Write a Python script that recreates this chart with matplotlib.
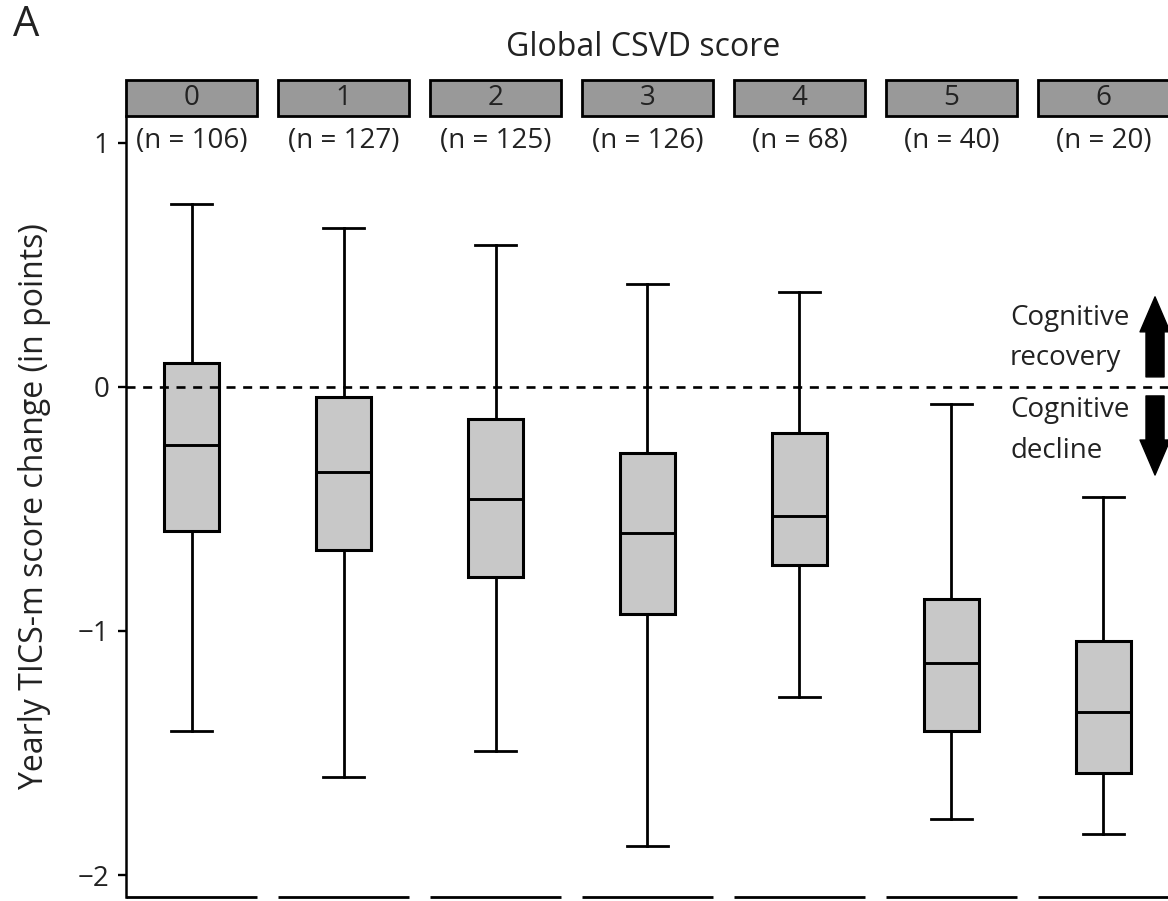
import matplotlib.pyplot as plt
import matplotlib.transforms as mtransforms
from matplotlib.patches import Rectangle

plt.rcParams['font.family'] = ['Open Sans', 'DejaVu Sans']
plt.rcParams['lines.scale_dashes'] = False

# 数据
scores = ['0', '1', '2', '3', '4', '5', '6']
n_patients = [106, 127, 125, 126, 68, 40, 20]
whisker_low = [-1.41, -1.60, -1.49, -1.88, -1.27, -1.77, -1.83]
q1 = [-0.59, -0.67, -0.78, -0.93, -0.73, -1.41, -1.58]
medians = [-0.24, -0.35, -0.46, -0.60, -0.53, -1.13, -1.33]
q3 = [0.10, -0.04, -0.13, -0.27, -0.19, -0.87, -1.04]
whisker_high = [0.75, 0.65, 0.58, 0.42, 0.39, -0.07, -0.45]

stats = []
for i in range(len(scores)):
    stats.append({'med': medians[i], 'q1': q1[i], 'q3': q3[i],
                  'whislo': whisker_low[i], 'whishi': whisker_high[i],
                  'fliers': []})

fig = plt.figure(figsize=(11.68, 9.01), dpi=100)
ax = fig.add_axes([126 / 1168, 4 / 901, 1043 / 1168, 781 / 901])

# 零线（虚线）
ax.axhline(0, color='black', lw=1.9, dashes=(6.5, 5.5), zorder=3)

ax.bxp(stats, positions=range(len(scores)), widths=0.368, capwidths=0.276,
       patch_artist=True, showfliers=False,
       boxprops=dict(facecolor='#c8c8c8', edgecolor='black', linewidth=2.2),
       medianprops=dict(color='black', linewidth=2.1),
       whiskerprops=dict(color='black', linewidth=2.0),
       capprops=dict(color='black', linewidth=2.0))

half = 0.431
ax.set_xlim(-half, len(scores) - 1 + half)
ax.set_ylim(-2.09, 1.11)
ax.set_xticks([])
ax.set_yticks([-2, -1, 0, 1])
ax.tick_params(axis='y', length=6, width=1.7, labelsize=20, pad=6, colors='black')
ax.tick_params(axis='y', labelcolor='#222222')
for s in ['top', 'right', 'bottom']:
    ax.spines[s].set_visible(False)
ax.spines['left'].set_linewidth(1.8)

ax.set_ylabel('Yearly TICS-m score change (in points)', fontsize=23, color='#222222')
ax.yaxis.set_label_coords(-0.072, 0.5)

# 每个分面：底线、标题条、样本量
trans = mtransforms.blended_transform_factory(ax.transData, ax.transAxes)
for i, (s, n) in enumerate(zip(scores, n_patients)):
    ax.plot([i - half, i + half], [0, 0], transform=trans, color='black',
            lw=2.0, clip_on=False, solid_capstyle='butt')
    ax.add_patch(Rectangle((i - half, 1.0), 2 * half, 0.046, transform=trans,
                           facecolor='#999999', edgecolor='black', lw=2.0,
                           clip_on=False))
    ax.text(i, 1.023, s, transform=trans, ha='center', va='center',
            fontsize=20, color='#222222')
    ax.text(i, 0.968, f'(n = {n})', transform=trans, ha='center',
            va='center', fontsize=20, color='#222222')

# 注释文字和箭头
tx = 5.385
ax.text(tx, 0.254, 'Cognitive', fontsize=20, ha='left', va='baseline', color='#222222')
ax.text(tx, 0.090, 'recovery', fontsize=20, ha='left', va='baseline', color='#222222')
ax.text(tx, -0.123, 'Cognitive', fontsize=20, ha='left', va='baseline', color='#222222')
ax.text(tx, -0.291, 'decline', fontsize=20, ha='left', va='baseline', color='#222222')

arrow_style = 'simple,tail_width=0.65,head_width=1.08,head_length=1.26'
ax.annotate('', xy=(6.339, 0.369), xytext=(6.339, 0.041),
            arrowprops=dict(arrowstyle=arrow_style, fc='black', ec='black',
                            shrinkA=0, shrinkB=0, mutation_scale=20),
            annotation_clip=False)
ax.annotate('', xy=(6.339, -0.361), xytext=(6.339, -0.037),
            arrowprops=dict(arrowstyle=arrow_style, fc='black', ec='black',
                            shrinkA=0, shrinkB=0, mutation_scale=20),
            annotation_clip=False)

fig.text(643.5 / 1168, 1 - 47 / 901, 'Global CSVD score', ha='center',
         va='center', fontsize=23, color='#222222')
fig.text(13 / 1168, 1 - 25.5 / 901, 'A', ha='left', va='center', fontsize=30,
         color='#222222')

plt.savefig('out.png', dpi=100)
